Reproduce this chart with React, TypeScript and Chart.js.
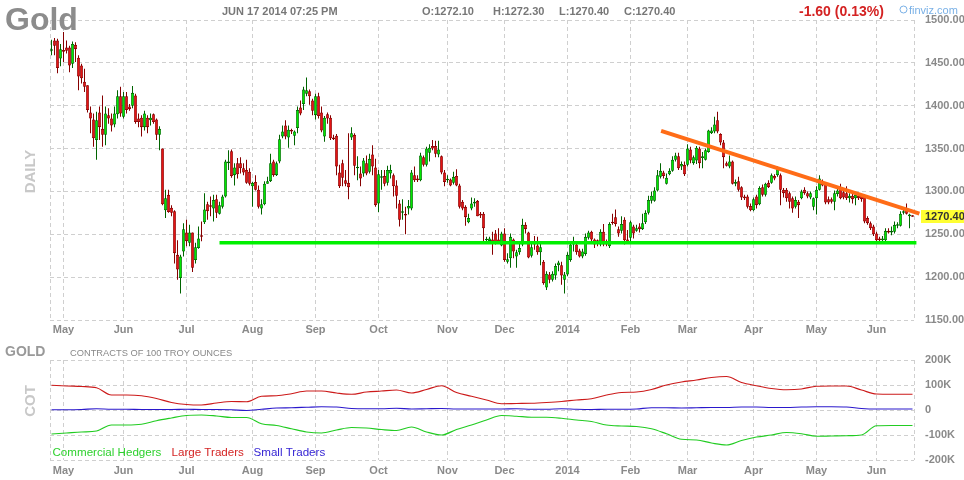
import React, { useEffect, useRef } from 'react';
import { Chart, registerables } from 'chart.js';

Chart.register(...registerables);

const FONT = '"Liberation Sans", Arial, Helvetica, sans-serif';

// ---------- price data (daily candles, index 0 = first candle) ----------
const opens = [
  1464,1476,1476,1455,1465,1468,1468,1449,1471,1456,
  1447,1428,1424,1392,1384,1360,1392,1373,1366,1389,
  1385,1378,1390,1411,1387,1411,1399,1400,1412,1385,
  1386,1375,1386,1383,1390,1384,1366,1350,1278,1296,
  1281,1277,1226,1199,1230,1252,1240,1252,1220,1234,
  1249,1264,1285,1284,1280,1291,1274,1282,1294,1333,
  1347,1319,1333,1333,1327,1325,1323,1306,1311,1302,
  1280,1285,1309,1312,1335,1319,1335,1364,1377,1363,
  1371,1365,1374,1398,1402,1414,1417,1406,1389,1411,
  1392,1364,1390,1386,1363,1365,1322,1333,1313,1310,
  1363,1366,1327,1321,1321,1333,1323,1343,1328,1286,
  1316,1318,1310,1321,1319,1307,1286,1275,1273,1280,
  1280,1319,1315,1313,1340,1331,1345,1353,1353,1343,
  1341,1322,1313,1314,1310,1318,1307,1288,1282,1264,
  1280,1286,1289,1274,1274,1243,1242,1244,1251,1244,
  1237,1251,1218,1222,1244,1224,1229,1238,1261,1252,
  1225,1240,1237,1229,1218,1188,1203,1197,1202,1214,
  1214,1197,1203,1220,1238,1238,1231,1224,1227,1246,
  1253,1244,1243,1238,1253,1240,1236,1264,1270,1256,
  1254,1267,1244,1246,1259,1254,1259,1256,1264,1275,
  1289,1289,1301,1317,1322,1309,1320,1324,1337,1341,
  1329,1331,1331,1349,1333,1336,1350,1339,1337,1346,
  1368,1370,1383,1367,1357,1333,1329,1335,1309,1312,
  1305,1294,1294,1283,1278,1294,1285,1305,1296,1310,
  1310,1318,1319,1319,1302,1302,1298,1292,1282,1288,
  1292,1302,1298,1293,1282,1292,1302,1311,1309,1291,
  1291,1288,1297,1305,1299,1298,1292,1295,1292,1295,
  1295,1295,1269,1263,1259,1251,1245,1243,1243,1254,
  1252,1253,1260,1260,1275,1278,1271,1272.1,
];
const highs = [
  1477,1479,1478,1472,1486,1476,1470,1475,1474,1459,
  1449,1443,1424,1399,1391,1393,1399,1412,1399,1397,
  1391,1399,1418,1422,1416,1416,1402,1423,1414,1391,
  1389,1394,1389,1391,1391,1385,1376,1350,1302,1302,
  1284,1278,1243,1226,1263,1267,1261,1252,1240,1259,
  1265,1298,1288,1294,1296,1296,1288,1296,1337,1348,
  1349,1333,1339,1340,1333,1337,1327,1311,1319,1307,
  1291,1312,1317,1344,1337,1335,1366,1377,1383,1377,
  1373,1371,1399,1406,1422,1433,1419,1408,1414,1415,
  1399,1388,1392,1389,1366,1367,1331,1337,1325,1368,
  1375,1368,1341,1329,1339,1342,1344,1354,1338,1325,
  1325,1325,1330,1331,1321,1313,1290,1291,1282,1290,
  1325,1329,1319,1345,1342,1352,1355,1360,1359,1359,
  1342,1325,1319,1315,1323,1326,1309,1290,1284,1274,
  1293,1292,1290,1276,1276,1247,1247,1253,1255,1257,
  1253,1257,1228,1251,1245,1232,1240,1268,1264,1253,
  1242,1248,1247,1242,1220,1207,1206,1207,1216,1219,
  1218,1206,1229,1240,1247,1240,1233,1233,1251,1254,
  1254,1245,1244,1256,1262,1244,1264,1274,1279,1259,
  1271,1270,1255,1266,1261,1261,1263,1274,1278,1295,
  1300,1305,1325,1333,1324,1321,1327,1341,1345,1345,
  1335,1335,1355,1352,1342,1353,1352,1346,1350,1372,
  1375,1387,1393,1368,1360,1335,1342,1336,1314,1317,
  1306,1296,1296,1286,1293,1296,1306,1308,1310,1313,
  1321,1320,1329,1321,1304,1304,1300,1294,1294,1290,
  1302,1305,1300,1300,1293,1306,1319,1314,1311,1294,
  1293,1301,1304,1309,1301,1306,1298,1298,1298,1298,
  1296,1297,1271,1265,1261,1253,1247,1248,1257,1257,
  1259,1265,1264,1277,1279,1286,1274,1272.3,
];
const lows = [
  1459,1459,1438,1446,1451,1461,1439,1444,1451,1418,
  1426,1416,1392,1368,1352,1337,1360,1352,1354,1379,
  1370,1375,1385,1387,1385,1391,1394,1397,1379,1375,
  1364,1371,1368,1377,1379,1360,1348,1284,1269,1275,
  1271,1216,1197,1181,1224,1236,1236,1206,1216,1233,
  1242,1262,1267,1271,1265,1269,1273,1280,1293,1325,
  1316,1307,1315,1321,1319,1309,1307,1282,1301,1280,
  1273,1284,1309,1311,1317,1318,1333,1362,1361,1351,
  1367,1354,1368,1389,1395,1411,1401,1389,1384,1385,
  1369,1358,1379,1360,1360,1319,1304,1306,1306,1291,
  1360,1319,1313,1306,1317,1319,1321,1319,1282,1276,
  1302,1306,1307,1315,1294,1280,1259,1267,1250,1273,
  1278,1311,1311,1312,1329,1329,1335,1348,1340,1340,
  1320,1306,1310,1306,1308,1306,1280,1278,1260,1263,
  1278,1282,1271,1269,1242,1240,1240,1226,1238,1239,
  1236,1218,1216,1211,1222,1211,1226,1236,1251,1222,
  1223,1232,1226,1214,1191,1185,1193,1195,1197,1207,
  1191,1181,1201,1218,1230,1226,1223,1222,1225,1244,
  1242,1234,1236,1236,1236,1236,1234,1261,1259,1247,
  1251,1238,1239,1240,1245,1253,1252,1255,1262,1273,
  1286,1288,1300,1315,1315,1308,1319,1323,1335,1325,
  1325,1318,1329,1333,1331,1332,1327,1327,1336,1345,
  1367,1368,1368,1354,1327,1329,1327,1308,1306,1300,
  1290,1290,1280,1277,1277,1280,1284,1294,1294,1304,
  1309,1313,1317,1284,1293,1288,1280,1275,1280,1269,
  1291,1296,1292,1291,1278,1273,1301,1306,1285,1285,
  1286,1278,1294,1291,1291,1290,1287,1286,1284,1290,
  1288,1263,1261,1255,1248,1242,1242,1242,1242,1251,
  1249,1251,1257,1259,1273,1273,1257,1270.4,
];
const closes = [
  1466,1470,1444,1466,1463,1464,1447,1472,1466,1434,
  1432,1422,1395,1385,1362,1383,1375,1366,1391,1385,
  1377,1391,1411,1391,1411,1395,1396,1415,1381,1381,
  1375,1391,1375,1386,1381,1366,1373,1285,1292,1276,
  1275,1228,1209,1224,1256,1242,1252,1211,1235,1245,
  1247,1279,1277,1282,1290,1275,1284,1294,1335,1335,
  1318,1328,1320,1327,1322,1310,1309,1310,1302,1282,
  1285,1309,1312,1333,1319,1333,1361,1370,1364,1372,
  1370,1370,1395,1391,1419,1418,1411,1394,1411,1388,
  1371,1386,1385,1362,1361,1329,1306,1316,1309,1305,
  1368,1330,1328,1315,1336,1321,1338,1329,1284,1320,
  1317,1309,1325,1325,1306,1295,1267,1277,1272,1283,
  1322,1313,1313,1342,1331,1350,1351,1350,1344,1349,
  1322,1311,1314,1307,1317,1307,1282,1280,1270,1269,
  1286,1288,1271,1272,1257,1244,1245,1241,1240,1240,
  1251,1220,1221,1247,1230,1229,1234,1261,1256,1223,
  1235,1238,1229,1235,1193,1204,1197,1204,1213,1217,
  1202,1203,1226,1238,1240,1229,1224,1230,1247,1252,
  1244,1238,1240,1253,1238,1238,1262,1263,1262,1251,
  1262,1243,1240,1264,1251,1257,1256,1263,1275,1290,
  1295,1301,1319,1324,1318,1316,1324,1337,1342,1327,
  1332,1320,1350,1336,1340,1351,1333,1341,1348,1371,
  1371,1378,1370,1357,1340,1330,1335,1309,1311,1302,
  1293,1292,1282,1278,1291,1284,1304,1296,1309,1305,
  1319,1315,1326,1302,1298,1292,1288,1280,1290,1284,
  1300,1298,1294,1298,1292,1302,1315,1307,1287,1287,
  1288,1298,1301,1292,1293,1292,1295,1291,1296,1292,
  1291,1265,1263,1257,1250,1243,1243,1245,1254,1252,
  1254,1261,1261,1274,1276,1274,1273,1270.4,
];

// month boundaries (candle index) and labels on the time axis
const monthTickIdx = [4, 24, 45, 67, 88, 109, 132, 151, 172, 193, 212, 234, 255, 275];
const monthTickLabels = ['May', 'Jun', 'Jul', 'Aug', 'Sep', 'Oct', 'Nov', 'Dec', '2014', 'Feb', 'Mar', 'Apr', 'May', 'Jun'];
const priceTicks = [1150, 1200, 1250, 1300, 1350, 1400, 1450, 1500];
const cotTicks = [-200000, -100000, 0, 100000, 200000];

// drawn trend lines (index, price)
const supportLine = [{ x: 56, y: 1240 }, { x: 288.3, y: 1240 }];
const resistanceLine = [{ x: 203.2, y: 1370.7 }, { x: 289.3, y: 1274.2 }];

// header
const headerDate = 'JUN 17 2014 07:25 PM';
const headerChange = '-1.60 (0.13%)';

// ---------- COT data (thousands of contracts) ----------
const cotIdx = [
  0, 5, 10, 15, 20, 25, 30, 35, 40, 45, 50, 55, 60, 65, 70, 75, 80, 85, 90, 95,
  100, 105, 110, 115, 120, 125, 130, 135, 140, 145, 150, 155, 160, 165, 170, 175, 180, 185, 190, 195,
  200, 205, 210, 215, 220, 225, 230, 235, 240, 245, 250, 255, 260, 265, 270, 275, 280, 285, 287,
];
const commercialK = [
  -96, -92, -88, -84, -60, -60, -57, -43, -32, -22, -20, -24, -30, -30, -55, -62, -75, -88, -92, -80,
  -70, -72, -78, -82, -68, -88, -100, -78, -60, -40, -22, -25, -29, -29, -33, -40, -46, -60, -64, -66,
  -75, -95, -117, -120, -132, -140, -122, -108, -100, -90, -95, -105, -104, -103, -100, -63, -62, -62, -62,
];
const largeK = [
  99, 96, 94, 89, 60, 60, 57, 46, 30, 22, 20, 28, 34, 33, 55, 57, 65, 76, 76, 68,
  63, 72, 76, 80, 68, 82, 97, 70, 55, 40, 25, 26, 27, 30, 34, 40, 45, 60, 70, 72,
  82, 100, 112, 120, 130, 134, 110, 97, 86, 81, 84, 95, 96, 96, 80, 64, 63, 63, 63,
];
const smallK = [
  1, 1, 2, 5, 3, 3, 2, 2, 2, 3, 2, 2, 1, -2, 3, 8, 9, 11, 13, 12,
  6, 5, 5, 7, 4, 5, 6, 4, 4, 4, 4, 5, 3, 3, 5, 3, 2, 3, 3, 4,
  9, 9, 8, 9, 10, 10, 12, 12, 10, 10, 12, 13, 13, 12, 6, 4, 4, 4, 4,
];

const X_MIN = -0.5;
const X_MAX = closes.length - 0.5;

const GRID = '#cfcfcf';
const AXIS_TXT = '#8a8a8a';

function timeAxis(pad: number) {
  return {
    type: 'linear' as const,
    min: X_MIN,
    max: X_MAX,
    offset: false,
    afterBuildTicks: (axis: any) => {
      axis.ticks = [X_MIN, ...monthTickIdx, X_MAX].map((v) => ({ value: v }));
    },
    afterFit: (axis: any) => {
      axis.height = 20;
    },
    grid: { color: GRID, lineWidth: 1, drawTicks: false, offset: false },
    border: { display: false, dash: [4, 3] },
    ticks: {
      autoSkip: false,
      maxRotation: 0,
      minRotation: 0,
      padding: pad,
      color: AXIS_TXT,
      font: { family: FONT, size: 11, weight: 'bold' as const },
      callback: (value: any) => {
        const k = monthTickIdx.indexOf(value);
        return k >= 0 ? monthTickLabels[k] : '';
      },
    },
  };
}

export default function App() {
  const priceRef = useRef<HTMLCanvasElement | null>(null);
  const cotRef = useRef<HTMLCanvasElement | null>(null);

  useEffect(() => {
    const up = closes.map((c, i) => c >= opens[i]);
    const bodyFill = up.map((u) => (u ? '#00e800' : '#e41414'));
    const darkCol = up.map((u) => (u ? '#006400' : '#860000'));
    const last = closes.length - 1;

    const priceText = {
      id: 'priceText',
      afterDraw(chart: any) {
        const ctx = chart.ctx as CanvasRenderingContext2D;
        ctx.save();
        ctx.textAlign = 'left';
        ctx.textBaseline = 'alphabetic';
        ctx.fillStyle = '#8c8c8c';
        ctx.font = `bold 32px ${FONT}`;
        ctx.fillText('Gold', 5, 30);

        ctx.fillStyle = '#777777';
        ctx.font = `bold 11px ${FONT}`;
        ctx.fillText(headerDate, 222, 14.5);
        ctx.fillText('O:' + opens[last].toFixed(2), 422, 14.5);
        ctx.fillText('H:' + highs[last].toFixed(2), 493, 14.5);
        ctx.fillText('L:' + lows[last].toFixed(2), 559, 14.5);
        ctx.fillText('C:' + closes[last].toFixed(2), 624, 14.5);

        ctx.fillStyle = '#d42222';
        ctx.font = `bold 14px ${FONT}`;
        ctx.fillText(headerChange, 799, 15.5);

        ctx.strokeStyle = '#79b0e6';
        ctx.lineWidth = 1;
        ctx.beginPath();
        ctx.arc(903.5, 9.5, 3.5, 0, Math.PI * 2);
        ctx.stroke();
        ctx.fillStyle = '#79b0e6';
        ctx.font = `11px ${FONT}`;
        ctx.fillText('finviz.com', 909, 13.5);

        ctx.save();
        ctx.translate(30.5, 171.5);
        ctx.rotate(-Math.PI / 2);
        ctx.textAlign = 'center';
        ctx.textBaseline = 'middle';
        ctx.fillStyle = '#c8c8c8';
        ctx.font = `bold 15px ${FONT}`;
        ctx.fillText('DAILY', 0, 0);
        ctx.restore();

        const yScale = chart.scales.y;
        const py = yScale.getPixelForValue(closes[last]);
        ctx.fillStyle = '#ffff33';
        ctx.fillRect(921, Math.round(py) - 7, 43, 13);
        ctx.fillStyle = '#333333';
        ctx.font = `bold 11px ${FONT}`;
        ctx.textBaseline = 'middle';
        ctx.fillText(closes[last].toFixed(2), 925, py);
        ctx.restore();
      },
    };

    const price = new Chart(priceRef.current as HTMLCanvasElement, {
      type: 'bar',
      data: {
        datasets: [
          {
            type: 'line',
            data: supportLine,
            borderColor: '#00f000',
            borderWidth: 3.5,
            pointRadius: 0,
            order: 1,
            clip: false,
          } as any,
          {
            type: 'line',
            data: resistanceLine,
            borderColor: '#ff6c17',
            borderWidth: 4,
            pointRadius: 0,
            order: 0,
            clip: false,
          } as any,
          {
            type: 'bar',
            data: closes.map((_, i) => ({ x: i, y: [opens[i], closes[i]] })),
            backgroundColor: bodyFill,
            borderColor: darkCol,
            borderWidth: 0.8,
            borderSkipped: false,
            barThickness: 3,
            minBarLength: 1.5,
            inflateAmount: 0,
            grouped: false,
            order: 2,
          } as any,
          {
            type: 'bar',
            data: closes.map((_, i) => ({ x: i, y: [lows[i], highs[i]] })),
            backgroundColor: darkCol,
            borderWidth: 0,
            barThickness: 1,
            inflateAmount: 0,
            grouped: false,
            order: 3,
          } as any,
        ],
      },
      options: {
        responsive: false,
        animation: false,
        events: [],
        layout: { padding: { left: 50, top: 20, right: 0, bottom: 0 } },
        plugins: { legend: { display: false }, tooltip: { enabled: false } },
        scales: {
          x: timeAxis(3) as any,
          y: {
            type: 'linear',
            position: 'right',
            min: 1150,
            max: 1500,
            afterBuildTicks: (axis: any) => {
              axis.ticks = priceTicks.map((v) => ({ value: v }));
            },
            afterFit: (axis: any) => {
              axis.width = 50;
            },
            grid: { color: GRID, lineWidth: 1, drawTicks: false },
            border: { display: false, dash: [4, 3] },
            ticks: {
              padding: 11,
              color: AXIS_TXT,
              font: { family: FONT, size: 11, weight: 'bold' },
              callback: (v: any) => Number(v).toFixed(2),
            },
          },
        },
      },
      plugins: [priceText],
    });

    const cotText = {
      id: 'cotText',
      afterDraw(chart: any) {
        const ctx = chart.ctx as CanvasRenderingContext2D;
        ctx.save();
        ctx.textAlign = 'left';
        ctx.textBaseline = 'alphabetic';
        ctx.fillStyle = '#999999';
        ctx.font = `bold 14px ${FONT}`;
        ctx.fillText('GOLD', 5, 16);
        ctx.fillStyle = '#888888';
        ctx.font = `9.3px ${FONT}`;
        ctx.fillText('CONTRACTS OF 100 TROY OUNCES', 70, 16);

        ctx.save();
        ctx.translate(30.5, 61);
        ctx.rotate(-Math.PI / 2);
        ctx.textAlign = 'center';
        ctx.textBaseline = 'middle';
        ctx.fillStyle = '#c8c8c8';
        ctx.font = `bold 15px ${FONT}`;
        ctx.fillText('COT', 0, 0);
        ctx.restore();

        ctx.font = `11.6px ${FONT}`;
        ctx.fillStyle = '#2ed12e';
        ctx.fillText('Commercial Hedgers', 52.5, 116);
        ctx.fillStyle = '#d42424';
        ctx.fillText('Large Traders', 171.5, 116);
        ctx.fillStyle = '#3524d4';
        ctx.fillText('Small Traders', 253.5, 116);
        ctx.restore();
      },
    };

    const mk = (vals: number[]) => cotIdx.map((x, i) => ({ x, y: vals[i] * 1000 }));

    const cot = new Chart(cotRef.current as HTMLCanvasElement, {
      type: 'line',
      data: {
        datasets: [
          { data: mk(commercialK), borderColor: '#22cc22', borderWidth: 1.2, pointRadius: 0, cubicInterpolationMode: 'monotone' },
          { data: mk(largeK), borderColor: '#cc1a1a', borderWidth: 1.2, pointRadius: 0, cubicInterpolationMode: 'monotone' },
          { data: mk(smallK), borderColor: '#2a18cc', borderWidth: 1.2, pointRadius: 0, cubicInterpolationMode: 'monotone' },
        ] as any,
      },
      options: {
        responsive: false,
        animation: false,
        events: [],
        layout: { padding: { left: 50, top: 20, right: 0, bottom: 0 } },
        plugins: { legend: { display: false }, tooltip: { enabled: false } },
        scales: {
          x: timeAxis(4) as any,
          y: {
            type: 'linear',
            position: 'right',
            min: -200000,
            max: 200000,
            afterBuildTicks: (axis: any) => {
              axis.ticks = cotTicks.map((v) => ({ value: v }));
            },
            afterFit: (axis: any) => {
              axis.width = 50;
            },
            grid: { color: GRID, lineWidth: 1, drawTicks: false },
            border: { display: false, dash: [4, 3] },
            ticks: {
              padding: 11,
              color: AXIS_TXT,
              font: { family: FONT, size: 11, weight: 'bold' },
              callback: (v: any) => (Number(v) === 0 ? '0' : Number(v) / 1000 + 'K'),
            },
          },
        },
      },
      plugins: [cotText],
    });

    return () => {
      price.destroy();
      cot.destroy();
    };
  }, []);

  return (
    <div style={{ position: 'absolute', left: 0, top: 0, width: 964, height: 480, background: '#ffffff' }}>
      <canvas ref={priceRef} width={964} height={340} style={{ position: 'absolute', left: 0, top: 0, display: 'block' }} />
      <canvas ref={cotRef} width={964} height={140} style={{ position: 'absolute', left: 0, top: 340, display: 'block' }} />
    </div>
  );
}
